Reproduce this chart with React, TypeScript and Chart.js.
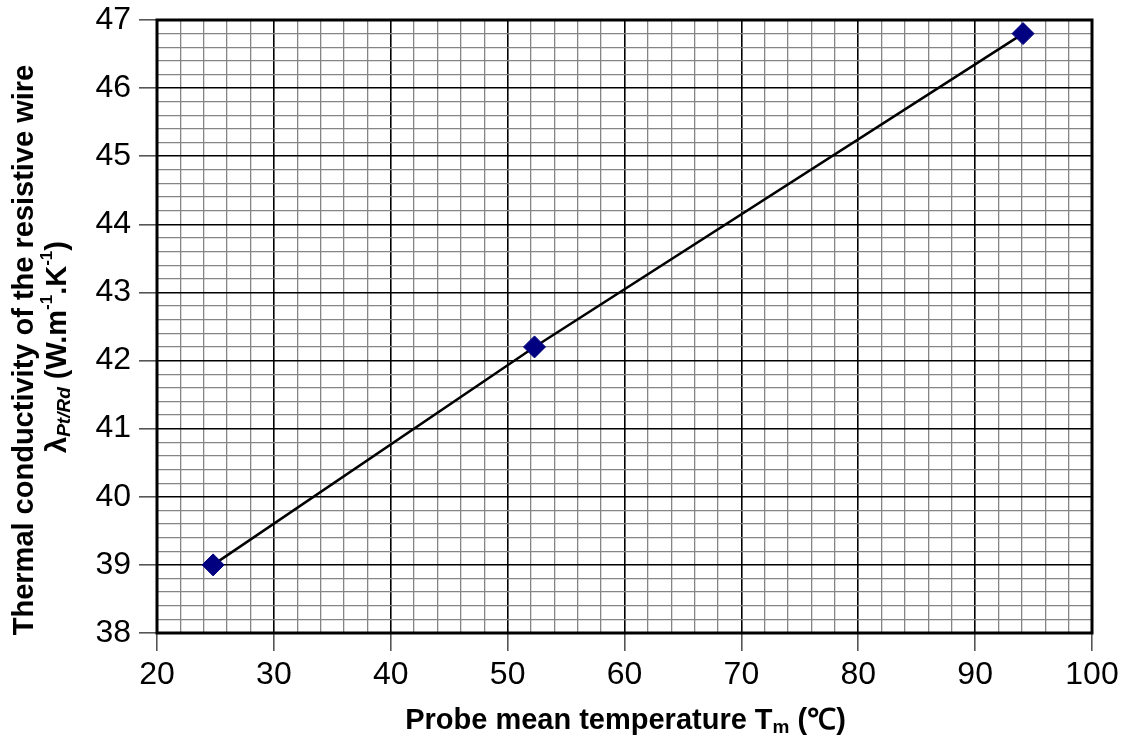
import React, { useEffect, useRef } from "react";
import { Chart, registerables } from "chart.js";

Chart.register(...registerables);

const temperatures = [24.8, 52.3, 94.1];
const conductivity = [39.0, 42.2, 46.8];
const xRange = [20, 100];
const yRange = [38, 47];
const xMinorStep = 2;
const yMinorStep = 0.2;
const xTitleParts = [
  { text: "Probe mean temperature T", kind: "normal" },
  { text: "m", kind: "sub" },
  { text: " (℃)", kind: "normal" },
];
const yTitleLine1 = [{ text: "Thermal conductivity of the resistive wire", kind: "normal" }];
const yTitleLine2 = [
  { text: "λ", kind: "normal" },
  { text: "Pt/Rd", kind: "subItalic" },
  { text: " (W.m", kind: "normal" },
  { text: "-1", kind: "sup" },
  { text: ".K", kind: "normal" },
  { text: "-1", kind: "sup" },
  { text: ")", kind: "normal" },
];

const FAMILY = '"Liberation Sans", Arial, Helvetica, sans-serif';

function fontFor(kind: string) {
  if (kind === "sub") return `bold 19px ${FAMILY}`;
  if (kind === "subItalic") return `italic bold 19px ${FAMILY}`;
  if (kind === "sup") return `bold 17px ${FAMILY}`;
  return `bold 29px ${FAMILY}`;
}
function dyFor(kind: string) {
  if (kind === "sub" || kind === "subItalic") return 7;
  if (kind === "sup") return -11;
  return 0;
}

function drawRich(ctx: CanvasRenderingContext2D, parts: any[], cx: number, cy: number, rot: number) {
  ctx.save();
  ctx.translate(cx, cy);
  ctx.rotate(rot);
  ctx.textBaseline = "middle";
  ctx.textAlign = "left";
  ctx.fillStyle = "#000";
  let total = 0;
  const widths = parts.map((p) => {
    ctx.font = fontFor(p.kind);
    const w = ctx.measureText(p.text).width;
    total += w;
    return w;
  });
  let x = -total / 2;
  parts.forEach((p, i) => {
    ctx.font = fontFor(p.kind);
    ctx.fillText(p.text, x, dyFor(p.kind));
    x += widths[i];
  });
  ctx.restore();
}

const isMajor = (v: number) => Math.abs(v - Math.round(v)) < 1e-6;
const isMajorX = (v: number) => Math.abs(v / 10 - Math.round(v / 10)) < 1e-6;

const framePlugin = {
  id: "frame",
  beforeDatasetsDraw(chart: any) {
    const { ctx, chartArea } = chart;
    ctx.save();
    ctx.strokeStyle = "#000";
    ctx.lineWidth = 3;
    ctx.strokeRect(chartArea.left, chartArea.top, chartArea.right - chartArea.left, chartArea.bottom - chartArea.top);
    ctx.restore();
  },
  afterDraw(chart: any) {
    const { ctx, chartArea } = chart;
    const cx = (chartArea.left + chartArea.right) / 2;
    drawRich(ctx, xTitleParts, cx + 1, 721, 0);
    drawRich(ctx, yTitleLine1, 25, 350, -Math.PI / 2);
    drawRich(ctx, yTitleLine2, 58, 347, -Math.PI / 2);
  },
};

export default function App() {
  const ref = useRef<HTMLCanvasElement>(null);
  useEffect(() => {
    document.body.style.margin = "0";
    const chart = new Chart(ref.current!, {
      type: "scatter",
      data: {
        datasets: [
          {
            data: temperatures.map((t, i) => ({ x: t, y: conductivity[i] })),
            showLine: true,
            borderColor: "#000",
            borderWidth: 2.5,
            backgroundColor: "#00008b",
            pointBackgroundColor: "#000080",
            pointBorderColor: "#000080",
            pointBorderWidth: 1,
            pointStyle: "rectRot",
            pointRadius: 11,
            pointHoverRadius: 11,
          },
        ],
      },
      options: {
        animation: false,
        responsive: false,
        layout: { padding: { top: 20, right: 34, left: 0, bottom: 0 } },
        plugins: { legend: { display: false }, tooltip: { enabled: false } },
        scales: {
          x: {
            type: "linear",
            min: xRange[0],
            max: xRange[1],
            afterFit: (s: any) => {
              s.height = 109;
              s.paddingLeft = 0;
              s.paddingRight = 0;
            },
            ticks: {
              stepSize: xMinorStep,
              autoSkip: false,
              maxRotation: 0,
              padding: 5,
              color: "#000",
              font: { size: 32, family: FAMILY },
              callback: (v: any) => (isMajorX(Number(v)) ? String(Math.round(Number(v))) : ""),
            },
            grid: {
              tickLength: 18,
              color: (c: any) => (isMajorX(c.tick.value) ? "#000" : "#858585"),
              lineWidth: (c: any) => (isMajorX(c.tick.value) ? 1.6 : 1.3),
              tickColor: (c: any) => (isMajorX(c.tick.value) ? "#555" : "rgba(0,0,0,0)"),
            },
            border: { display: false },
          },
          y: {
            type: "linear",
            min: yRange[0],
            max: yRange[1],
            afterFit: (s: any) => {
              s.width = 157;
              s.paddingTop = 0;
              s.paddingBottom = 0;
            },
            ticks: {
              stepSize: yMinorStep,
              autoSkip: false,
              padding: 8,
              color: "#000",
              font: { size: 32, family: FAMILY },
              callback: (v: any) => (isMajor(Number(v)) ? String(Math.round(Number(v))) : ""),
            },
            grid: {
              tickLength: 18,
              color: (c: any) => (isMajor(c.tick.value) ? "#000" : "#858585"),
              lineWidth: (c: any) => (isMajor(c.tick.value) ? 1.6 : 1.3),
              tickColor: (c: any) => (isMajor(c.tick.value) ? "#555" : "rgba(0,0,0,0)"),
            },
            border: { display: false },
          },
        },
      },
      plugins: [framePlugin],
    });
    return () => chart.destroy();
  }, []);
  return (
    <div style={{ width: 1126, height: 742, background: "#fff" }}>
      <canvas ref={ref} width={1126} height={742} style={{ display: "block" }} />
    </div>
  );
}
